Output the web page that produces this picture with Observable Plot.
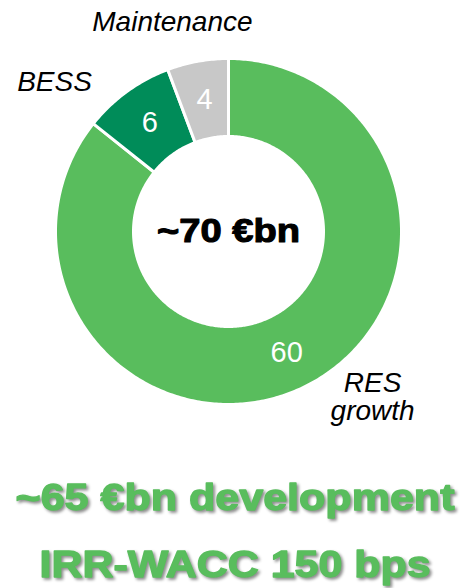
<!DOCTYPE html>
<html><head><meta charset="utf-8">
<script src="https://cdn.jsdelivr.net/npm/d3@7"></script>
<script src="https://cdn.jsdelivr.net/npm/@observablehq/plot@0.6"></script>
<style>body{margin:0;background:#fff}</style>
</head><body><div id="chart"></div>
<script>
// ---- data ----
const categories = ["RES growth", "BESS", "Maintenance"];
const values = [60, 6, 4];
const valueLabels = ["60", "6", "4"];
const totalLabel = "~70 €bn";
const footerLines = ["~65 €bn development", "IRR-WACC 150 bps"];
const colors = ["#59BD5D", "#008C59", "#C8C8C8"];

// ---- layout ----
const W = 460, H = 588, cx = 228, cy = 231, R = 173, r0 = 95;
const inner = r0 / R;
const xDomain = [-cx / R, (W - cx) / R];
const yDomain = [(cy - H) / R, cy / R];

const table = categories.map((c, i) => ({category: c, value: values[i], label: valueLabels[i]}));
const arcs = d3.pie().sort(null).value(d => d.value)(table);

const pts = [];
for (const s of arcs) {
  const n = Math.max(4, Math.ceil((s.endAngle - s.startAngle) * 80));
  const ring = [];
  for (let k = 0; k <= n; k++) { const a = s.startAngle + (s.endAngle - s.startAngle) * k / n; ring.push([Math.sin(a), Math.cos(a)]); }
  for (let k = n; k >= 0; k--) { const a = s.startAngle + (s.endAngle - s.startAngle) * k / n; ring.push([inner * Math.sin(a), inner * Math.cos(a)]); }
  ring.push(ring[0]);
  ring.forEach(p => pts.push({category: s.data.category, x: p[0], y: p[1]}));
}
const mid = s => (s.startAngle + s.endAngle) / 2;
const rc = (1 + inner) / 2;
const centroids = arcs.map(s => ({...s.data, x: rc * Math.sin(mid(s)), y: rc * Math.cos(mid(s))}));
const outerPos = arcs.map(s => ({...s.data, x: 1.2 * Math.sin(mid(s)), y: 1.2 * Math.cos(mid(s))}));
const byCat = c => outerPos.filter(d => d.category === c);

const labelFont = "Liberation Sans, Arial, sans-serif";

const chart = Plot.plot({
  width: W, height: H,
  margin: 0,
  x: {domain: xDomain, axis: null},
  y: {domain: yDomain, axis: null},
  color: {domain: categories, range: colors},
  style: {fontFamily: labelFont, background: "white"},
  marks: [
    Plot.line(pts, {x: "x", y: "y", z: "category", fill: "category", stroke: "white", strokeWidth: 3, curve: "linear"}),
    Plot.text(centroids, {x: "x", y: "y", text: "label", fill: "white", fontSize: 29}),
    Plot.text(byCat("Maintenance"), {x: "x", y: "y", text: d => d.category, fontSize: 28, fontStyle: "italic", fill: "black", dx: -19, dy: -5}),
    Plot.text(byCat("BESS"), {x: "x", y: "y", text: d => d.category, fontSize: 28, fontStyle: "italic", fill: "black", dx: -52, dy: 18}),
    Plot.text(byCat("RES growth"), {x: "x", y: "y", text: d => d.category.replace(" ", "\n"), fontSize: 28, fontStyle: "italic", fill: "black", dx: 54, dy: -22, lineHeight: 1.0}),
    Plot.text([totalLabel], {x: 0, y: 0, text: d => d, fontSize: 34, fontWeight: "bold", fill: "black", stroke: "black", strokeWidth: 1.1}),
    Plot.text([footerLines[0]], {frameAnchor: "bottom", text: d => d, fontSize: 37, fontWeight: "bold", fill: colors[0], stroke: colors[0], strokeWidth: 1.3, lineAnchor: "bottom", dx: 4.5, dy: -79}),
    Plot.text([footerLines[1]], {frameAnchor: "bottom", text: d => d, fontSize: 37, fontWeight: "bold", fill: colors[0], stroke: colors[0], strokeWidth: 1.3, lineAnchor: "bottom", dx: 4.5, dy: -12})
  ]
});

// stretch heavy texts to the wide face of the original and add a soft shadow on the footer
const widths = {[totalLabel]: 143, [footerLines[0]]: 439, [footerLines[1]]: 391};
chart.querySelectorAll("text").forEach(t => {
  const s = t.textContent;
  if (widths[s]) {
    t.setAttribute("textLength", widths[s]);
    t.setAttribute("lengthAdjust", "spacingAndGlyphs");
    if (footerLines.includes(s)) t.style.filter = "drop-shadow(2px 2px 1.5px rgba(0,0,0,0.45))";
  }
});
document.getElementById("chart").appendChild(chart);
</script>
</body></html>
